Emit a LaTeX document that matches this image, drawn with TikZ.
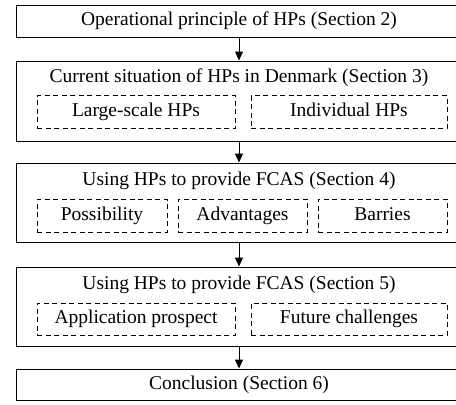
\documentclass[tikz,border=0pt]{standalone}
\usepackage{fontspec}
\setmainfont{Liberation Serif}
\usetikzlibrary{arrows.meta, positioning}

\begin{document}
\begin{tikzpicture}[
  x=1pt, y=-1pt,
  secbox/.style={
    draw, line width=1pt, minimum width=446pt, inner sep=0pt,
    text height=13pt, text depth=4pt
  },
  subbox/.style={
    draw, dash pattern=on 5pt off 3.5pt, line width=0.8pt,
    minimum height=33pt, inner sep=0pt, text height=13pt, text depth=4pt
  },
  title/.style={inner sep=0pt, text height=13pt, text depth=4pt},
  arr/.style={-{Triangle[length=9pt, width=8pt]}, line width=1pt},
  font=\fontsize{19.5}{22}\selectfont
]
  \useasboundingbox (0,0) rectangle (456,405);
  % section frames
  \node[secbox, minimum height=32pt] (s2) at (239,21)    {Operational principle of HPs (Section 2)};
  \node[secbox, minimum height=80pt] (s3) at (239,101)   {};
  \node[secbox, minimum height=79pt] (s4) at (239,202.5) {};
  \node[secbox, minimum height=79pt] (s5) at (239,306.5) {};
  \node[secbox, minimum height=31pt] (s6) at (239,384.5) {Conclusion (Section 6)};
  % titles
  \node[title] (t3) at (239,78)  {Current situation of HPs in Denmark (Section 3)};
  \node[title] (t4) at (239,181) {Using HPs to provide FCAS (Section 4)};
  \node[title] (t5) at (239,285) {Using HPs to provide FCAS (Section 5)};
  % sub-topics
  \foreach \x/\w/\lbl [count=\i] in {136/198/Large-scale HPs, 349/196/Individual HPs}
    \node[subbox, minimum width=\w pt] (a\i) at (\x,112) {\lbl};
  \foreach \x/\w/\lbl [count=\i] in {102/130/Possibility, 242.5/129/Advantages, 382.5/129/Barries}
    \node[subbox, minimum width=\w pt] (b\i) at (\x,215.5) {\lbl};
  \foreach \x/\w/\lbl [count=\i] in {136/198/Application prospect, 349/196/Future challenges}
    \node[subbox, minimum width=\w pt, minimum height=32pt] (c\i) at (\x,319) {\lbl};
  % flow
  \draw[arr] (s2) -- (s3);
  \draw[arr] (s3) -- (s4);
  \draw[arr] (s4) -- (s5);
  \draw[arr] (s5) -- (s6);
\end{tikzpicture}
\end{document}
